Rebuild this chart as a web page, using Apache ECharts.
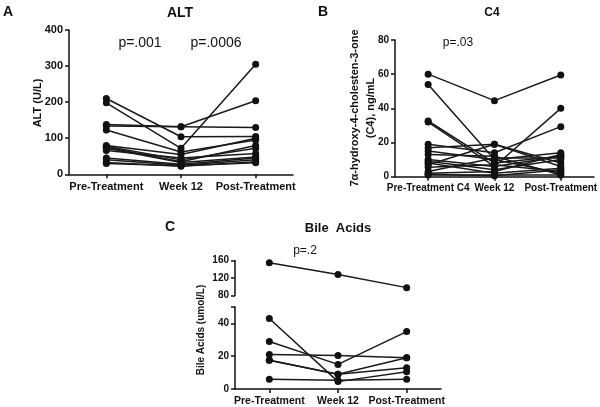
<!DOCTYPE html>
<html>
<head>
<meta charset="utf-8">
<script src="https://cdn.jsdelivr.net/npm/echarts@6/dist/echarts.min.js"></script>
<style>html,body{margin:0;padding:0;background:#fff}#c{width:600px;height:407px}</style>
</head>
<body>
<div id="c"></div>
<script>
// ---- Data ----
const categoriesA = ['Pre-Treatment', 'Week 12', 'Post-Treatment'];
const categoriesB = ['Pre-Treatment C4', 'Week 12', 'Post-Treatment'];
const categoriesC = ['Pre-Treatment', 'Week 12', 'Post-Treatment'];

// Panel A: ALT (U/L), one entry per subject
const altPre    = [210, 198, 138, 134, 123, 80, 78, 75, 72, 66, 45, 40, 33, 30];
const altWeek12 = [104, 72, 132, 132, 62, 55, 40, 35, 33, 45, 28, 25, 22, 24];
const altPost   = [105, 305, 204, 130, 95, 100, 72, 80, 48, 58, 45, 40, 35, 32];

// Panel B: C4 (ng/mL)
const c4Pre    = [60, 54, 32.6, 32, 19, 17, 15, 13, 10, 9, 8, 5.5, 7, 2, 1, 1.5, 3];
const c4Week12 = [44.5, 10, 8, 6, 14, 19, 10, 12, 6, 4, 2, 7, 19, 3, 1, 0.5, 11];
const c4Post   = [59.5, 2, 12, 40, 29.3, 8, 14, 1, 12, 10, 5, 3, 6, 13, 1, 4, 11];

// Panel C: Bile acids (umol/L)
const bilePre    = [155, 43, 29, 21, 17.5, 17.5, 6];
const bileWeek12 = [128, 4.5, 15, 20.5, 9, 9, 5.3];
const bilePost   = [98, 10.5, 35, 19, 19, 13, 6];

const yTicksA = [0, 100, 200, 300, 400];
const yTicksB = [0, 20, 40, 60, 80];
const yTicksCLow = [0, 20, 40];
const yTicksCHigh = [80, 120, 160];

// ---- Chart ----
const FONT = "'Liberation Sans', Arial, sans-serif";
const INK = '#111';
const chart = echarts.init(document.getElementById('c'), null, {renderer: 'canvas'});

function xAxisDef(gridIndex, cats, fs, show) {
  return {
    type: 'category', gridIndex, data: cats, boundaryGap: true, show: show !== false,
    axisLine: {show: true, lineStyle: {color: INK, width: 1.5}},
    axisTick: {show: true, alignWithLabel: true, length: 4, lineStyle: {color: INK, width: 1.5}},
    axisLabel: {color: INK, fontWeight: 'bold', fontSize: fs, fontFamily: FONT, margin: 7, interval: 0},
    splitLine: {show: false}
  };
}
function yAxisDef(gridIndex, min, max, interval, ticks, fs) {
  return {
    type: 'value', gridIndex, min, max, interval,
    axisLine: {show: true, lineStyle: {color: INK, width: 1.5}},
    axisTick: {show: true, length: 4, lineStyle: {color: INK, width: 1.5}},
    axisLabel: {color: INK, fontWeight: 'bold', fontSize: fs, fontFamily: FONT, margin: 6, customValues: ticks},
    splitLine: {show: false}
  };
}
function subjectSeries(pre, w12, post, xi, yi, filter) {
  const out = [];
  for (let i = 0; i < pre.length; i++) {
    const vals = [pre[i], w12[i], post[i]];
    if (filter && !filter(vals)) continue;
    out.push({
      type: 'line', xAxisIndex: xi, yAxisIndex: yi, data: vals,
      symbol: 'circle', symbolSize: 7, showSymbol: true,
      lineStyle: {color: '#1a1a1a', width: 1.5},
      itemStyle: {color: '#111'},
      silent: true, animation: false, z: 3
    });
  }
  return out;
}

const series = [].concat(
  subjectSeries(altPre, altWeek12, altPost, 0, 0),
  subjectSeries(c4Pre, c4Week12, c4Post, 1, 1),
  subjectSeries(bilePre, bileWeek12, bilePost, 2, 2, v => Math.min(...v) < 80),
  subjectSeries(bilePre, bileWeek12, bilePost, 3, 3, v => Math.min(...v) >= 80)
);

function txt(text, x, y, size, weight) {
  return {
    type: 'text', x, y, silent: true,
    style: {text, fill: INK, font: (weight || 'normal') + ' ' + size + 'px ' + FONT,
      textAlign: 'center', textVerticalAlign: 'middle'}
  };
}
function vtxt(text, x, y, size, lh) {
  return {
    type: 'text', x, y, rotation: Math.PI / 2, silent: true,
    style: {text, fill: INK, font: 'bold ' + size + 'px ' + FONT, textAlign: 'center',
      textVerticalAlign: 'middle', lineHeight: lh || size + 2}
  };
}

chart.setOption({
  animation: false,
  backgroundColor: '#fff',
  grid: [
    {left: 69, width: 224, top: 30, height: 144.3},
    {left: 395, width: 200, top: 40, height: 136.7},
    {left: 235, width: 206, top: 307, height: 85.5},
    {left: 235, width: 206, top: 260.5, height: 35}
  ],
  xAxis: [
    xAxisDef(0, categoriesA, 11),
    xAxisDef(1, categoriesB, 10),
    xAxisDef(2, categoriesC, 10.5),
    xAxisDef(3, categoriesC, 10, false)
  ],
  yAxis: [
    yAxisDef(0, 0, 400, 100, yTicksA, 11),
    yAxisDef(1, 0, 80, 20, yTicksB, 10),
    yAxisDef(2, 0, 50, 20, yTicksCLow, 10),
    yAxisDef(3, 80, 160, 40, yTicksCHigh, 10)
  ],
  series,
  graphic: [
    txt('A', 8, 12, 14, 'bold'),
    txt('B', 323, 12, 14, 'bold'),
    txt('C', 170, 227, 14, 'bold'),
    txt('ALT', 180, 13, 14, 'bold'),
    txt('C4', 492, 13, 12, 'bold'),
    txt('Bile  Acids', 338, 228, 13, 'bold'),
    txt('p=.001', 140, 43, 14),
    txt('p=.0006', 216, 43, 14),
    txt('p=.03', 458, 43, 12),
    txt('p=.2', 305, 251, 12),
    vtxt('ALT (U/L)', 38, 103, 11),
    vtxt('7α-hydroxy-4-cholesten-3-one\n(C4), ng/mL', 363, 108, 11, 16),
    vtxt('Bile Acids (umol/L)', 201, 330, 10)
  ]
});
</script>
</body>
</html>
